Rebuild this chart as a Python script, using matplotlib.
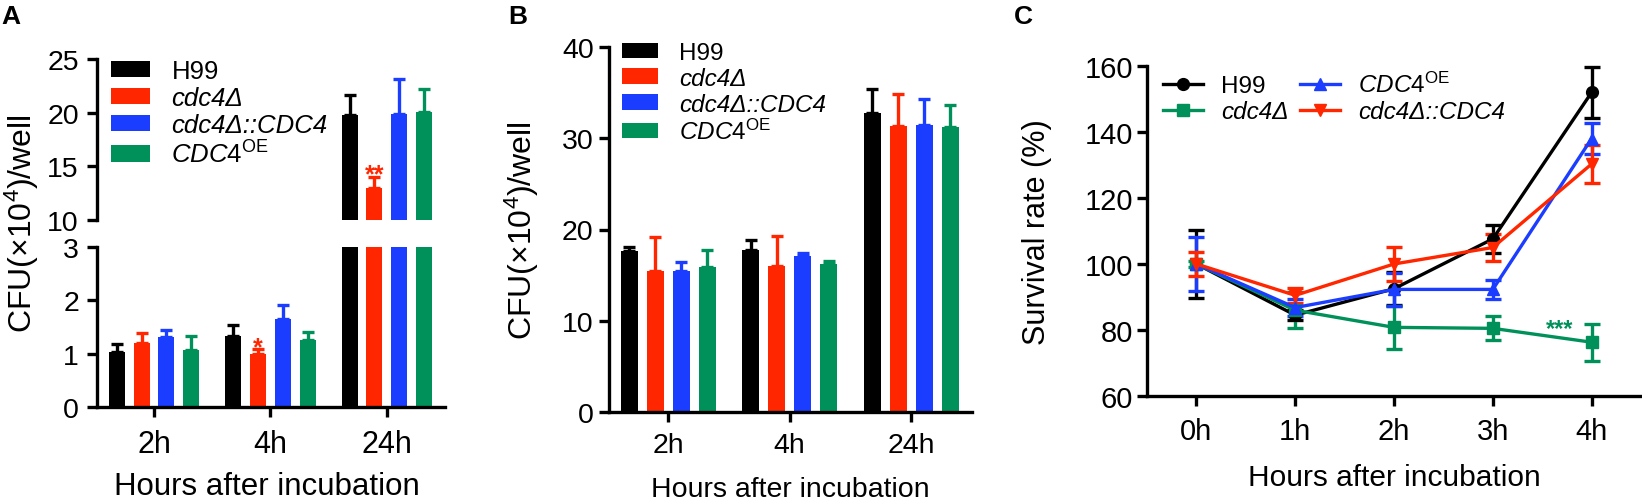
import numpy as np
import matplotlib
matplotlib.use('Agg')
import matplotlib.pyplot as plt
from matplotlib.patches import Patch
from matplotlib.lines import Line2D

plt.rcParams['font.family'] = ['Liberation Sans', 'DejaVu Sans']
plt.rcParams['mathtext.fontset'] = 'custom'
plt.rcParams['mathtext.rm'] = 'Liberation Sans'
plt.rcParams['mathtext.it'] = 'Liberation Sans:italic'
plt.rcParams['mathtext.bf'] = 'Liberation Sans:bold'

# data
hours_ab = ['2h', '4h', '24h']
hours_c = ['0h', '1h', '2h', '3h', '4h']

# panel A  (mean, upper SD)
a_h99 = [1.03, 1.34, 19.8]
a_h99_err = [0.15, 0.19, 1.8]
a_cdc4 = [1.20, 1.00, 13.0]
a_cdc4_err = [0.19, 0.09, 1.0]
a_comp = [1.31, 1.65, 19.9]
a_comp_err = [0.14, 0.26, 3.2]
a_oe = [1.07, 1.25, 20.1]
a_oe_err = [0.26, 0.15, 2.1]

# panel B
b_h99 = [17.6, 17.8, 32.8]
b_h99_err = [0.5, 1.1, 2.6]
b_cdc4 = [15.5, 16.0, 31.3]
b_cdc4_err = [3.7, 3.3, 3.5]
b_comp = [15.5, 17.1, 31.4]
b_comp_err = [0.9, 0.3, 2.9]
b_oe = [15.9, 16.2, 31.2]
b_oe_err = [1.8, 0.4, 2.4]

# panel C
c_h99 = [100, 84.5, 92.5, 107.6, 152.0]
c_h99_err = [10.3, 1.5, 5.0, 4.2, 7.7]
c_cdc4 = [100, 86.0, 80.8, 80.5, 76.3]
c_cdc4_err = [1.0, 5.5, 6.5, 3.6, 5.6]
c_oe = [100, 86.8, 92.3, 92.3, 138.0]
c_oe_err = [8.3, 2.7, 5.0, 3.0, 4.7]
c_comp = [100, 90.5, 100.0, 105.0, 130.3]
c_comp_err = [3.5, 2.3, 5.3, 4.2, 5.8]

black = '#000000'
red = '#ff2600'
blue = '#1a3dff'
green = '#00915a'

lbl_h99 = 'H99'
lbl_cdc4 = 'cdc4Δ'
lbl_comp = 'cdc4Δ::CDC4'
lbl_oe = r'$\mathit{CDC4}^{\mathrm{OE}}$'

LW = 2.4
W, H = 1642, 502
fig = plt.figure(figsize=(16.42, 5.02), dpi=100)


def style(ax, ysize):
    for s in ['top', 'right']:
        ax.spines[s].set_visible(False)
    for s in ['left', 'bottom']:
        ax.spines[s].set_linewidth(LW)
    ax.tick_params(width=LW, length=7, labelsize=ysize)


def bars(ax, groups, x, step, width):
    for i, (vals, errs, col) in enumerate(groups):
        xs = x + (i - 1.5) * step
        ax.bar(xs, vals, width=width, color=col, edgecolor='none', zorder=2)
        ax.errorbar(xs, vals, yerr=[np.zeros(len(vals)), errs], fmt='none',
                    ecolor=col, elinewidth=LW, capsize=4, capthick=LW, zorder=3)


def bar_legend(anchor, size):
    handles = [Patch(facecolor=c, edgecolor='none') for c in [black, red, blue, green]]
    leg = fig.legend(handles, [lbl_h99, lbl_cdc4, lbl_comp, lbl_oe], loc='upper left',
                     bbox_to_anchor=anchor, bbox_transform=fig.transFigure,
                     frameon=False, fontsize=size, handlelength=1.5, handleheight=0.62,
                     handletextpad=0.85, labelspacing=0.12, borderpad=0, borderaxespad=0)
    leg.get_texts()[1].set_fontstyle('italic')
    leg.get_texts()[2].set_fontstyle('italic')


def xlabel(px, py, size):
    fig.text(px / W, 1 - py / H, 'Hours after incubation', fontsize=size,
             ha='center', va='baseline')


# ---------------- panel A (broken axis) ----------------
x = np.arange(3)
step, width = 0.213, 0.138
groupsA = [(a_h99, a_h99_err, black), (a_cdc4, a_cdc4_err, red),
           (a_comp, a_comp_err, blue), (a_oe, a_oe_err, green)]

axA_lo = fig.add_axes([97 / W, 1 - 408 / H, 348 / W, 160 / H])
axA_hi = fig.add_axes([97 / W, 1 - 221 / H, 348 / W, 161 / H])
for ax in (axA_lo, axA_hi):
    bars(ax, groupsA, x, step, width)
    ax.set_xlim(-0.49, 2.5)
    style(ax, 20.5)
axA_lo.set_ylim(0, 3)
axA_lo.set_yticks([0, 1, 2, 3])
axA_hi.set_ylim(10, 25)
axA_hi.set_yticks([10, 15, 20, 25])
axA_hi.spines['bottom'].set_visible(False)
axA_hi.tick_params(axis='x', bottom=False, labelbottom=False)
axA_lo.set_xticks(x)
axA_lo.set_xticklabels(hours_ab)
axA_lo.tick_params(axis='x', labelsize=22, pad=8.5)
axA_lo.tick_params(axis='y', pad=6)
axA_hi.tick_params(axis='y', pad=6)
xlabel(267, 495, 22.5)
fig.text(22 / W, 1 - 224 / H, r'CFU(×10$^{4}$)/well', rotation=90, fontsize=23,
         ha='center', va='center')
axA_lo.text(x[1] - 0.5 * step, 0.98, '*', color=red, fontsize=18,
            fontweight='bold', ha='center', va='baseline')
axA_hi.text(x[2] - 0.5 * step, 13.65, '**', color=red, fontsize=18,
            fontweight='bold', ha='center', va='baseline')
bar_legend((111 / W, 1 - 60 / H), 18.5)

# ---------------- panel B ----------------
axB = fig.add_axes([609 / W, 1 - 413 / H, 363 / W, 365 / H])
groupsB = [(b_h99, b_h99_err, black), (b_cdc4, b_cdc4_err, red),
           (b_comp, b_comp_err, blue), (b_oe, b_oe_err, green)]
bars(axB, groupsB, x, 0.214, 0.14)
axB.set_xlim(-0.486, 2.5)
axB.set_ylim(0, 40)
axB.set_yticks([0, 10, 20, 30, 40])
style(axB, 20.5)
axB.set_xticks(x)
axB.set_xticklabels(hours_ab)
axB.tick_params(axis='x', labelsize=20.5, pad=7.4)
axB.tick_params(axis='y', pad=4)
xlabel(790, 497, 20.5)
axB.set_ylabel(r'CFU(×10$^{4}$)/well', fontsize=23)
axB.yaxis.set_label_coords(-0.187, 0.5)
bar_legend((622 / W, 1 - 43 / H), 17.5)

# ---------------- panel C ----------------
axC = fig.add_axes([1147 / W, 1 - 397 / H, 495 / W, 330 / H])
xc = np.arange(5)
series = [(c_h99, c_h99_err, black, 'o', lbl_h99),
          (c_cdc4, c_cdc4_err, green, 's', lbl_cdc4),
          (c_oe, c_oe_err, blue, '^', lbl_oe),
          (c_comp, c_comp_err, red, 'v', lbl_comp)]
handles = []
for vals, errs, col, mk, lab in series:
    axC.errorbar(xc, vals, yerr=errs, color=col, marker=mk, markersize=8.5,
                 lw=LW, elinewidth=LW, capsize=6, capthick=LW, clip_on=False)
    handles.append(Line2D([], [], color=col, marker=mk, markersize=8.5, lw=LW))
axC.set_xlim(-0.5, 4.51)
axC.set_ylim(60, 160)
axC.set_yticks([60, 80, 100, 120, 140, 160])
style(axC, 21)
axC.set_xticks(xc)
axC.set_xticklabels(hours_c)
axC.tick_params(axis='x', labelsize=21, pad=8)
axC.tick_params(axis='y', pad=3)
xlabel(1394, 486, 21.5)
axC.set_ylabel('Survival rate (%)', fontsize=22)
axC.yaxis.set_label_coords(-0.192, 0.5)
axC.text(3.68, 78.5, '***', color=green, fontsize=17, fontweight='bold',
         ha='center', va='baseline')
legC = fig.legend(handles, [s[4] for s in series], loc='upper left', ncol=2,
                  bbox_to_anchor=(1163 / W, 1 - 73 / H),
                  bbox_transform=fig.transFigure, frameon=False, fontsize=17.5,
                  handlelength=1.65, handletextpad=0.75, columnspacing=0.45,
                  labelspacing=0.12, borderpad=0, borderaxespad=0, numpoints=1)
legC.get_texts()[1].set_fontstyle('italic')
legC.get_texts()[3].set_fontstyle('italic')

# panel letters
for px, letter in [(0, 'A'), (507, 'B'), (1012, 'C')]:
    fig.text(px / W + 0.001, 1 - 5 / H, letter, fontsize=19,
             fontweight='bold', ha='left', va='top')

fig.savefig('out.png', dpi=100)
